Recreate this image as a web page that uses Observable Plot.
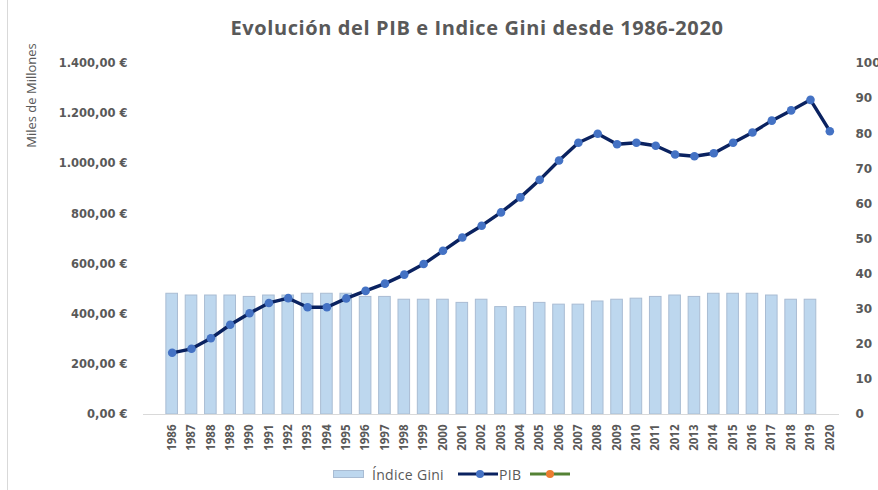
<!DOCTYPE html>
<html><head><meta charset="utf-8">
<script src="https://cdn.jsdelivr.net/npm/d3@7"></script>
<script src="https://cdn.jsdelivr.net/npm/@observablehq/plot@0.6"></script>
<style>
body{margin:0;background:#fff;}
#wrap{position:relative;width:878px;height:490px;overflow:hidden;background:#fff;font-family:"Open Sans",sans-serif;}
#edge{position:absolute;left:7px;top:0;bottom:0;border-left:1px solid #d9d9d9;}
#title{position:absolute;left:38px;width:878px;top:15px;text-align:center;font-weight:bold;font-size:20px;letter-spacing:0.6px;line-height:26px;color:#595959;white-space:nowrap;}
#chart{position:absolute;left:0;top:45px;}
#legend{position:absolute;left:0;top:464px;height:20px;width:878px;font-size:14px;letter-spacing:0.3px;color:#595959;}
#legend .it{position:absolute;top:0;height:20px;display:flex;align-items:center;white-space:nowrap;}
#legend svg{display:block;}
</style>
</head><body>
<div id="wrap">
  <div id="edge"></div>
  <div id="title">Evolución del PIB e Indice Gini desde 1986-2020</div>
  <div id="chart"></div>
  <div id="legend"></div>
</div>
<script>
const years = ["1986","1987","1988","1989","1990","1991","1992","1993","1994","1995","1996","1997","1998","1999","2000","2001","2002","2003","2004","2005","2006","2007","2008","2009","2010","2011","2012","2013","2014","2015","2016","2017","2018","2019","2020"];
const gini = [34.4,33.9,33.9,33.9,33.5,33.9,33.9,34.4,34.4,34.4,33.5,33.5,32.7,32.7,32.7,31.8,32.7,30.6,30.6,31.8,31.3,31.3,32.2,32.7,33.0,33.5,33.9,33.5,34.4,34.4,34.4,33.9,32.7,32.7,null];
const pib = [246,262,304,358,404,445,464,428,428,463,493,522,558,600,653,706,753,806,866,936,1013,1084,1120,1078,1084,1072,1037,1030,1042,1084,1125,1172,1213,1255,1130];
const pibTicks = [0,200,400,600,800,1000,1200,1400];
const giniTicks = [0,10,20,30,40,50,60,70,80,90,100];
const seriesNames = ["Índice Gini","PIB",""];

const K = 1400/100; // right axis (0-100) mapped onto left axis (0-1400)
const data = years.map((y,i)=>({year:y, gini:gini[i], pib:pib[i]}));
const loc = d3.formatLocale({decimal:",", thousands:".", grouping:[3], currency:["",""]});
const fmt = loc.format(",.2f");

const chart = Plot.plot({
  width:878, height:415,
  marginLeft:162, marginRight:39, marginTop:18, marginBottom:46,
  style:{fontFamily:"'DejaVu Sans', sans-serif", color:"#595959", background:"transparent", overflow:"visible"},
  x:{type:"band", domain:years, paddingInner:0.4, paddingOuter:0.2, round:false},
  y:{domain:[0,1400]},
  marks:[
    Plot.barY(data.filter(d=>d.gini!=null), {x:"year", y:d=>d.gini*K, fill:"#bdd7ee", stroke:"#a9bcd3", strokeWidth:1}),
    Plot.ruleY([0], {stroke:"#d9d9d9", strokeWidth:1, insetLeft:-19}),
    Plot.line(data, {x:"year", y:"pib", stroke:"#0a2260", strokeWidth:3.4}),
    Plot.dot(data, {x:"year", y:"pib", r:4.3, fill:"#4472c4"}),
    Plot.axisX({tickRotate:-90, tickSize:0, tickPadding:10, fontFamily:"'Open Sans', sans-serif", fontSize:11.5, fontWeight:"bold", fill:"#595959", label:null}),
    Plot.axisY({ticks:pibTicks, tickFormat:d=>fmt(d)+" €", tickSize:0, tickPadding:35, fontSize:11.5, fontWeight:"bold", fill:"#595959", label:null}),
    Plot.axisY({anchor:"right", ticks:giniTicks.map(d=>d*K), tickFormat:d=>String(Math.round(d/K)), tickSize:0, tickPadding:16, fontSize:12, fontWeight:"bold", fill:"#595959", label:null}),
    Plot.text(["Miles de Millones"], {frameAnchor:"top-left", dx:-136, dy:32, rotate:-90, fontFamily:"'Open Sans', sans-serif", fontSize:13, fill:"#595959", textAnchor:"middle"})
  ]
});
document.getElementById("chart").appendChild(chart);

const legend = document.getElementById("legend");
legend.innerHTML = `
 <div class="it" style="left:333px"><svg width="31" height="10"><rect x="0.5" y="1.5" width="30" height="7" fill="#bdd7ee" stroke="#a9bcd3"/></svg><span style="margin-left:8px">${seriesNames[0]}</span></div>
 <div class="it" style="left:458px"><svg width="40" height="10"><line x1="0" x2="40" y1="5" y2="5" stroke="#0a2260" stroke-width="3"/><circle cx="22" cy="5" r="4" fill="#4472c4"/></svg><span style="margin-left:1px">${seriesNames[1]}</span></div>
 <div class="it" style="left:530px"><svg width="40" height="10"><line x1="0" x2="40" y1="5" y2="5" stroke="#548235" stroke-width="3"/><circle cx="20" cy="5" r="4" fill="#ed7d31"/></svg></div>`;
</script>
</body></html>
